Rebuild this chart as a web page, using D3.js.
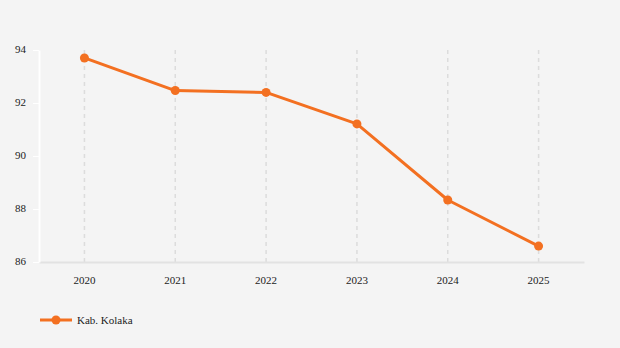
<!DOCTYPE html>
<html><head><meta charset="utf-8">
<script src="https://cdn.jsdelivr.net/npm/d3@7"></script>
<style>
html,body{margin:0;padding:0;background:#f4f4f4;}
svg{display:block;}
svg text{font-family:"Liberation Serif","Times New Roman",serif !important;}
</style></head>
<body>
<svg id="chart" width="620" height="348"></svg>
<script>
const categories = ["2020","2021","2022","2023","2024","2025"];
const seriesName = "Kab. Kolaka";
const values = [93.70, 92.47, 92.40, 91.21, 88.34, 86.60];
const yTicks = [86, 88, 90, 92, 94];

(function(){
const svg = d3.select("#chart");
const W = 620, H = 348;
svg.append("rect").attr("width", W).attr("height", H).attr("fill", "#f4f4f4");
const mL = 39, mR = 584, mT = 50, mB = 262;
const orange = "#f37021";

const x = d3.scaleBand().domain(categories).range([mL, mR]);
const y = d3.scaleLinear().domain([86, 94]).range([mB, mT]);

svg.append("g").selectAll("line").data(categories).join("line")
  .attr("x1", d => x(d) + x.bandwidth()/2).attr("x2", d => x(d) + x.bandwidth()/2)
  .attr("y1", mT).attr("y2", mB)
  .attr("stroke", "#dcdcdc").attr("stroke-width", 1.5).attr("stroke-dasharray", "4,4");

const xAxis = svg.append("g").attr("transform", `translate(0,${mB})`)
  .call(d3.axisBottom(x).tickSize(0).tickPadding(14));
xAxis.select(".domain").attr("stroke", "#e2e2e2").attr("stroke-width", 2);
xAxis.selectAll("text").attr("font-size", 11).attr("fill", "#222");

const yAxis = svg.append("g").attr("transform", `translate(${mL},0)`)
  .call(d3.axisLeft(y).tickValues(yTicks).tickSize(6).tickPadding(7).tickSizeOuter(0));
yAxis.select(".domain").attr("stroke", "#ffffff").attr("stroke-width", 2);
yAxis.selectAll(".tick line").attr("stroke", "#ffffff").attr("stroke-width", 1);
yAxis.selectAll("text").attr("font-size", 11).attr("fill", "#222").attr("dy", "0.2em");

const line = d3.line().x((d, i) => x(categories[i]) + x.bandwidth()/2).y(d => y(d));
svg.append("path").datum(values).attr("d", line)
  .attr("fill", "none").attr("stroke", orange).attr("stroke-width", 3).attr("stroke-linejoin", "round");
svg.append("g").selectAll("circle").data(values).join("circle")
  .attr("cx", (d, i) => x(categories[i]) + x.bandwidth()/2).attr("cy", d => y(d))
  .attr("r", 4.5).attr("fill", orange);

const lg = svg.append("g").attr("transform", "translate(40,320)");
lg.append("line").attr("x1", 0).attr("x2", 32).attr("y1", 0).attr("y2", 0)
  .attr("stroke", orange).attr("stroke-width", 3);
lg.append("circle").attr("cx", 16).attr("cy", 0).attr("r", 4.5).attr("fill", orange);
lg.append("text").attr("x", 37).attr("y", 4).attr("font-size", 11).attr("fill", "#222")
  .text(seriesName);
})();
</script>
</body></html>
